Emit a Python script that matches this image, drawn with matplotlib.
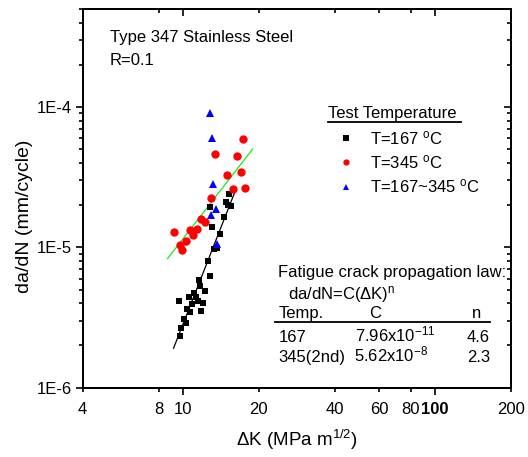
import matplotlib
matplotlib.use('Agg')
import matplotlib.pyplot as plt
from matplotlib.lines import Line2D

plt.rcParams['font.family'] = ['Liberation Sans', 'DejaVu Sans']
plt.rcParams['mathtext.fontset'] = 'custom'
plt.rcParams['mathtext.rm'] = 'Liberation Sans'
plt.rcParams['mathtext.it'] = 'Liberation Sans:italic'
plt.rcParams['mathtext.bf'] = 'Liberation Sans:bold'
plt.rcParams['mathtext.default'] = 'regular'

# ---------------- data ----------------
t167_dk = [15.22, 14.85, 15.50, 15.08, 12.75, 14.49, 13.03, 14.06, 13.22, 13.64,
           12.51, 12.83, 11.53, 11.68, 12.18, 11.05, 9.60, 10.56, 11.29, 11.47,
           12.00, 10.88, 10.36, 10.68, 11.81, 10.05, 10.23, 9.86, 9.75]
t167_dadn = [2.41e-5, 2.12e-5, 1.97e-5, 2.01e-5, 1.94e-5, 1.65e-5, 1.39e-5, 1.25e-5, 9.7e-6, 9.9e-6,
             7.96e-6, 6.22e-6, 5.83e-6, 5.28e-6, 4.89e-6, 4.71e-6, 4.13e-6, 4.41e-6, 4.41e-6, 4.13e-6,
             4.03e-6, 3.93e-6, 3.66e-6, 3.46e-6, 3.54e-6, 3.10e-6, 2.91e-6, 2.66e-6, 2.34e-6]

t345_dk = [17.31, 13.35, 16.43, 16.93, 14.95, 15.83, 17.68, 12.87, 11.78, 12.18,
           9.23, 10.61, 11.36, 10.91, 10.27, 9.75, 9.95]
t345_dadn = [5.93e-5, 4.65e-5, 4.48e-5, 3.46e-5, 3.28e-5, 2.62e-5, 2.65e-5, 2.26e-5, 1.59e-5, 1.52e-5,
             1.29e-5, 1.32e-5, 1.35e-5, 1.23e-5, 1.105e-5, 1.035e-5, 9.54e-6]

tmix_dk = [12.75, 13.03, 13.10, 13.51, 12.91, 13.64]
tmix_dadn = [9.12e-5, 5.99e-5, 2.83e-5, 1.87e-5, 1.70e-5, 1.05e-5]

fit167_dk = [9.17, 16.27]
fit167_dadn = [1.91e-6, 2.64e-5]
fit345_dk = [8.68, 18.90]
fit345_dadn = [8.31e-6, 5.03e-5]

legend_labels = ['T=167 $^{o}$C', 'T=345 $^{o}$C', 'T=167~345 $^{o}$C']

x_major = [10, 100]
x_minor = [4, 8, 20, 40, 60, 80, 200]
y_major = [1e-6, 1e-5, 1e-4]
y_major_labels = ['1E-6', '1E-5', '1E-4']

# ---------------- figure ----------------
W, H = 528, 457
fig = plt.figure(figsize=(W / 100, H / 100), dpi=100)
L, R, T, B = 82.7, 511, 9, 387.7
ax = fig.add_axes([L / W, 1 - B / H, (R - L) / W, (B - T) / H])

FS = 12
lw = 1.2

ax.plot(fit167_dk, fit167_dadn, color='black', lw=0.9, zorder=2)
ax.plot(fit345_dk, fit345_dadn, color='#1ee81e', lw=0.9, zorder=2)
h1, = ax.plot(t167_dk, t167_dadn, 's', color='black', ms=5.0, mew=0, zorder=3)
h2, = ax.plot(t345_dk, t345_dadn, 'o', color='#ff0000', ms=6.0, mew=0, zorder=3)
h3, = ax.plot(tmix_dk, tmix_dadn, '^', color='#0000ff', ms=6.0, mew=0, zorder=4)

ax.set_xscale('log')
ax.set_yscale('log')
ax.set_xlim(4, 200)
ax.set_ylim(1e-6, 5e-4)

ax.set_xticks(x_major)
ax.set_xticklabels([str(v) for v in x_major])
ax.set_xticks(x_minor, minor=True)
ax.set_xticklabels([str(v) for v in x_minor], minor=True)
for lab in ax.get_xticklabels():
    if lab.get_text() == '100':
        lab.set_fontweight('bold')

ax.set_yticks(y_major)
ax.set_yticklabels(y_major_labels)
ymin_ticks = [m * 10.0 ** e for e in (-6, -5, -4) for m in range(2, 10) if m * 10.0 ** e <= 5e-4]
ax.set_yticks(ymin_ticks, minor=True)
ax.set_yticklabels([], minor=True)

ax.tick_params(axis='both', which='both', direction='out', width=lw, labelsize=FS)
ax.tick_params(axis='both', which='major', length=5)
ax.tick_params(axis='both', which='minor', length=3)
ax.tick_params(axis='x', which='major', pad=5)
ax.tick_params(axis='x', which='minor', pad=7)
ax.tick_params(axis='y', which='major', pad=2.5)
for s in ax.spines.values():
    s.set_linewidth(lw)

# top / right ticks (inward)
axt = ax.twiny()
axt.set_xscale('log')
axt.set_xlim(4, 200)
axt.set_xticks(x_major)
axt.set_xticks(x_minor, minor=True)
axt.set_xticklabels([])
axt.set_xticklabels([], minor=True)
axt.tick_params(axis='x', which='both', direction='in', width=lw)
axt.tick_params(axis='x', which='major', length=5)
axt.tick_params(axis='x', which='minor', length=3)
axr = ax.twinx()
axr.set_yscale('log')
axr.set_ylim(1e-6, 5e-4)
axr.set_yticks(y_major)
axr.set_yticks(ymin_ticks, minor=True)
axr.set_yticklabels([])
axr.set_yticklabels([], minor=True)
axr.tick_params(axis='y', which='both', direction='in', width=lw)
axr.tick_params(axis='y', which='major', length=5)
axr.tick_params(axis='y', which='minor', length=3)
for a in (axt, axr):
    for s in a.spines.values():
        s.set_linewidth(lw)

ax.set_xlabel('ΔK (MPa m$^{1/2}$)', fontsize=13.5, labelpad=8)
ax.set_ylabel('da/dN (mm/cycle)', fontsize=14)
ax.yaxis.set_label_coords((33 - L) / (R - L), 1 - (216.5 - T) / (B - T))


def ft(px, py, s, **kw):
    kw.setdefault('fontsize', FS)
    kw.setdefault('va', 'baseline')
    fig.text(px / W, 1 - py / H, s, **kw)


def hline(x0, x1, py, lwid=1.3):
    fig.add_artist(Line2D([x0 / W, x1 / W], [1 - py / H, 1 - py / H],
                          transform=fig.transFigure, color='black', lw=lwid))


ft(110, 41.7, 'Type 347 Stainless Steel')
ft(110, 65, 'R=0.1')

ft(328, 118, 'Test Temperature')
hline(328, 461, 121.7)
leg = ax.legend([h1, h2, h3], legend_labels, loc='upper left',
                bbox_to_anchor=(338 / W, 1 - 129 / H), bbox_transform=fig.transFigure,
                frameon=False, fontsize=FS, handlelength=1.0, handletextpad=0.9,
                labelspacing=0.38, borderpad=0, borderaxespad=0, markerscale=0.75)

ft(278.3, 276.7, 'Fatigue crack propagation law:')
ft(288.3, 299.5, 'da/dN=C(ΔK)$^{n}$')
ft(278.3, 318, 'Temp.')
ft(375, 318, 'C', ha='center')
ft(477, 318, 'n', ha='center')
hline(275, 490, 321.7)
ft(278.3, 341.7, '167')
ft(355, 341.7, '7.96x10$^{-11}$')
ft(466.7, 341.7, '4.6')
ft(278.3, 361.7, '345(2nd)')
ft(354, 361.7, '5.62x10$^{-8}$')
ft(466.7, 361.7, '2.3')

fig.savefig('out.png', dpi=100)
